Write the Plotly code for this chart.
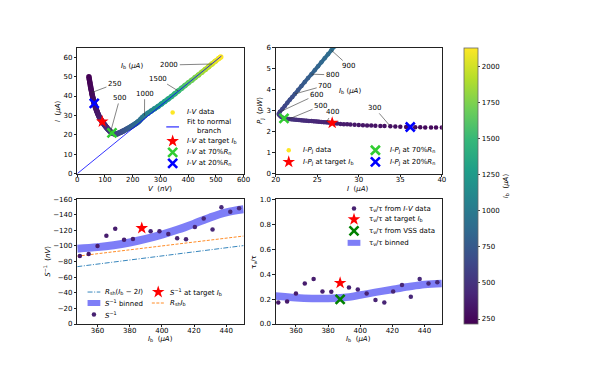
import numpy as np
import plotly.graph_objects as go
from plotly.colors import sample_colorscale

W, H = 598, 374
OFF = 8            # the page body margin shifts the figure by this much
FW, FH = W - OFF, H - OFF

# ---------------- I-V sweep: bias current, TES current, TES voltage ----------------
ib_uA = np.array([
    218.0, 222.3, 227.0, 231.4, 236.2, 240.7, 245.6, 250.6, 254.5, 259.2,
    262.5, 265.9, 269.6, 273.4, 277.2, 281.4, 284.9, 290.6, 295.2, 300.6,
    306.7, 311.4, 317.2, 321.9, 327.0, 332.5, 338.0, 344.3, 351.0, 356.6,
    362.2, 368.6, 376.2, 381.5, 387.5, 394.8, 400.1, 405.8, 411.5, 417.6,
    423.7, 429.8, 435.9, 442.4, 448.9, 455.4, 462.3, 470.0, 477.7, 485.8,
    493.9, 503.2, 512.5, 521.8, 534.4, 548.6, 564.1, 578.8,
    594.1, 613.2, 631.5, 651.4, 668.9, 685.6, 702.3, 723.9, 745.1, 765.5,
    785.5, 803.1, 821.5, 839.5, 856.7, 873.9, 890.3, 906.3, 921.5,
    945, 970, 1000, 1050, 1100, 1150, 1200, 1250, 1300, 1350, 1400, 1450,
    1500, 1550, 1600, 1650, 1700, 1750, 1800, 1850, 1900, 1950, 2000, 2050,
    2100, 2130])
i_uA = np.array([
    50.0, 48.7, 47.4, 46.2, 45.0, 43.9, 42.8, 41.8, 40.9, 40.0,
    39.3, 38.7, 38.0, 37.4, 36.8, 36.2, 35.7, 35.0, 34.4, 33.8,
    33.1, 32.6, 32.0, 31.5, 31.0, 30.5, 30.0, 29.5, 29.0, 28.6,
    28.2, 27.8, 27.4, 27.1, 26.8, 26.4, 26.1, 25.8, 25.5, 25.2,
    24.9, 24.6, 24.3, 24.0, 23.7, 23.4, 23.1, 22.8, 22.5, 22.2,
    21.9, 21.6, 21.3, 21.0, 20.8, 20.6, 20.45, 20.35,
    20.5, 20.8, 21.1, 21.4, 21.7, 22.0, 22.3, 22.7, 23.1, 23.5,
    23.9, 24.3, 24.7, 25.1, 25.5, 25.9, 26.3, 26.7, 27.1,
    28.0, 28.9, 29.9, 31.1, 32.3, 33.5, 34.6, 35.9, 37.2, 38.5, 39.8, 41.2,
    42.6, 44.0, 45.4, 46.8, 48.1, 49.5, 50.9, 52.3, 53.7, 55.1, 56.5, 57.9,
    59.3, 60.1])
v_nV = np.array([
    42.0, 43.4, 44.9, 46.3, 47.8, 49.2, 50.7, 52.2, 53.4, 54.8,
    55.8, 56.8, 57.9, 59.0, 60.1, 61.3, 62.3, 63.9, 65.2, 66.7,
    68.4, 69.7, 71.3, 72.6, 74.0, 75.5, 77.0, 78.7, 80.5, 82.0,
    83.5, 85.2, 87.2, 88.6, 90.2, 92.1, 93.5, 95.0, 96.5, 98.1,
    99.7, 101.3, 102.9, 104.6, 106.3, 108.0, 109.8, 111.8, 113.8, 115.9,
    118.0, 120.4, 122.8, 125.2, 128.4, 132.0, 135.9, 139.6,
    143.4, 148.1, 152.6, 157.5, 161.8, 165.9, 170.0, 175.3, 180.5, 185.5,
    190.4, 194.7, 199.2, 203.6, 207.8, 212.0, 216.0, 219.9, 223.6,
    229.3, 235.3, 242.5, 254.7, 266.9, 279.1, 291.4, 303.5, 315.7, 327.9, 340.1, 352.2,
    364.4, 376.5, 388.7, 400.8, 413.0, 425.1, 437.3, 449.4, 461.6, 473.7, 485.9, 498.0,
    510.2, 517.5])
p_pW = i_uA * v_nV / 1000.0  # Joule power

# linear fit to the normal branch
v_fit = [0, 520]
i_fit = [0, 60.6]

IB_TARGET = 387.5
IB_70RN = 521.8
IB_20RN = 281.4

iv_label_ib = [250, 500, 1000, 1500, 2000]
ip_label_ib = [300, 400, 500, 600, 700, 800, 900]

# ---------------- responsivity vs bias ----------------
ib_pts = [349.0, 354.5, 360.0, 365.5, 371.0, 376.5, 382.0, 393.0, 398.5,
          404.0, 409.5, 415.0, 420.5, 426.0, 431.5, 437.0, 442.5, 448.0]
s_inv = [-87.3, -89.8, -99.9, -113.2, -121.9, -107.8, -109.0, -119.0, -118.7,
         -115.3, -109.9, -108.6, -124.4, -135.3, -121.2, -149.5, -143.7, -148.2]
tau_ratio = [0.172, 0.180, 0.245, 0.324, 0.360, 0.261, 0.258, 0.292, 0.277,
             0.245, 0.193, 0.172, 0.261, 0.313, 0.219, 0.360, 0.324, 0.334]
s_target = -122.8
tau_target = 0.329
tau_vss = 0.198

ib_bin = [347.4, 360, 370, 380, 390, 400, 410, 420, 430, 440, 450.8]
s_bin = [-96.5, -98.5, -101.0, -104.5, -109.0, -114.5, -121.0, -128.5, -136.5, -143.0, -147.0]
tau_bin = [0.225, 0.211, 0.205, 0.204, 0.212, 0.232, 0.255, 0.277, 0.298, 0.316, 0.324]

ib_line = [347.4, 450.8]
rsh_ib = [-86.9, -112.7]
rsh_ib_2i = [-73.5, -100.5]

# ---------------- styling ----------------
FONT = "DejaVu Sans"
CMIN, CMAX = float(ib_uA.min()), float(ib_uA.max())
GREEN = "#32cd32"
BAND = "rgba(20,20,240,0.55)"


def cmap(v):
    return sample_colorscale("Viridis", [(v - CMIN) / (CMAX - CMIN)])[0]


def k(ib):
    return int(np.argmin(np.abs(ib_uA - ib)))


def px(x):
    return (x - OFF) / FW


def py(y):
    return 1 - (y - OFF) / FH


# axes boxes in page pixels (left, right, top, bottom)
boxes = {
    "": (74.5, 244, 44.3, 173.3),
    "2": (276.7, 446, 44.3, 173.3),
    "3": (74.5, 244, 199.3, 327),
    "4": (276.7, 446, 199.3, 327),
}

fig = go.Figure()

star = dict(symbol="star", size=9.5, color="red", line=dict(width=0))


def xmark(c):
    return dict(symbol="x-thin", size=9, color=c, line=dict(color=c, width=2.6))


def gradient_path(xs, ys, ibs, width, xa, ya):
    # join consecutive data points with segments coloured by bias current
    for j in range(len(xs) - 1):
        fig.add_trace(go.Scatter(x=xs[j:j + 2], y=ys[j:j + 2], mode="lines",
                                 line=dict(color=cmap((ibs[j] + ibs[j + 1]) / 2), width=width),
                                 xaxis=xa, yaxis=ya, hoverinfo="skip"))


# --- top left: I-V ---
gradient_path(v_nV, i_uA, ib_uA, 5, "x", "y")
fig.add_trace(go.Scatter(
    x=v_nV, y=i_uA, mode="markers", xaxis="x", yaxis="y",
    marker=dict(size=5.5, color=ib_uA, colorscale="Viridis", cmin=CMIN, cmax=CMAX,
                showscale=True,
                colorbar=dict(x=px(468.3), xanchor="left", y=py(185.5), yanchor="middle",
                              len=282.4 / FH, lenmode="fraction", thickness=14.4,
                              thicknessmode="pixels", xpad=0, ypad=0,
                              outlinewidth=0.8, outlinecolor="#666",
                              tickvals=[250, 500, 750, 1000, 1250, 1500, 1750, 2000],
                              ticks="outside", ticklen=2.5, tickwidth=0.8,
                              tickfont=dict(size=7, color="black", family=FONT)))))
fig.add_trace(go.Scatter(x=v_fit, y=i_fit, mode="lines", xaxis="x", yaxis="y",
                         line=dict(color="blue", width=0.8)))
for ibx, mk in [(IB_TARGET, star), (IB_70RN, xmark(GREEN)), (IB_20RN, xmark("blue"))]:
    fig.add_trace(go.Scatter(x=[v_nV[k(ibx)]], y=[i_uA[k(ibx)]], mode="markers",
                             xaxis="x", yaxis="y", marker=mk))

# --- top right: I-P ---
dense = ib_uA >= 375
gradient_path(i_uA[dense], p_pW[dense], ib_uA[dense], 3.8, "x2", "y2")
fig.add_trace(go.Scatter(
    x=i_uA, y=p_pW, mode="markers", xaxis="x2", yaxis="y2",
    marker=dict(size=4.5, color=ib_uA, colorscale="Viridis", cmin=CMIN, cmax=CMAX)))
for ibx, mk in [(IB_TARGET, star), (IB_70RN, xmark(GREEN)), (IB_20RN, xmark("blue"))]:
    fig.add_trace(go.Scatter(x=[i_uA[k(ibx)]], y=[p_pW[k(ibx)]], mode="markers",
                             xaxis="x2", yaxis="y2", marker=mk))

# --- bottom left: S^-1 ---
fig.add_trace(go.Scatter(x=ib_line, y=rsh_ib_2i, mode="lines", xaxis="x3", yaxis="y3",
                         line=dict(color="#1f77b4", width=0.9, dash="5px,1.6px,1px,1.6px")))
fig.add_trace(go.Scatter(x=ib_line, y=rsh_ib, mode="lines", xaxis="x3", yaxis="y3",
                         line=dict(color="#ff7f0e", width=0.9, dash="3px,1.5px")))
fig.add_trace(go.Scatter(x=ib_bin, y=s_bin, mode="lines", xaxis="x3", yaxis="y3",
                         line=dict(color=BAND, width=8, shape="spline")))
fig.add_trace(go.Scatter(x=ib_pts, y=s_inv, mode="markers", xaxis="x3", yaxis="y3",
                         marker=dict(size=4.5, color=ib_pts, colorscale="Viridis",
                                     cmin=CMIN, cmax=CMAX)))
fig.add_trace(go.Scatter(x=[IB_TARGET], y=[s_target], mode="markers", xaxis="x3", yaxis="y3",
                         marker=star))

# --- bottom right: tau ratio ---
fig.add_trace(go.Scatter(x=ib_bin, y=tau_bin, mode="lines", xaxis="x4", yaxis="y4",
                         line=dict(color=BAND, width=7.5, shape="spline")))
fig.add_trace(go.Scatter(x=ib_pts, y=tau_ratio, mode="markers", xaxis="x4", yaxis="y4",
                         marker=dict(size=4.5, color=ib_pts, colorscale="Viridis",
                                     cmin=CMIN, cmax=CMAX)))
fig.add_trace(go.Scatter(x=[IB_TARGET], y=[tau_target], mode="markers", xaxis="x4", yaxis="y4",
                         marker=star))
fig.add_trace(go.Scatter(x=[IB_TARGET], y=[tau_vss], mode="markers", xaxis="x4", yaxis="y4",
                         marker=xmark("#008000")))

# ---------------- hand-made legends (pixel overlay) ----------------
annotations = []


def ptxt(x, y, text, **kw):
    d = dict(x=px(x), y=py(y), xref="paper", yref="paper", text=text, showarrow=False,
             xanchor="left", yanchor="middle", font=dict(size=7, color="black", family=FONT))
    d.update(kw)
    annotations.append(d)


def key(kind, x, y, color, text, tx):
    if kind == "dot":
        tr = go.Scatter(x=[x], y=[y], mode="markers", marker=dict(size=4.5, color=color))
    elif kind == "star":
        tr = go.Scatter(x=[x], y=[y], mode="markers", marker=star)
    elif kind == "x":
        tr = go.Scatter(x=[x], y=[y], mode="markers", marker=xmark(color))
    else:
        style = dict(line=dict(color=color, width=1))
        if kind == "band":
            style = dict(line=dict(color=BAND, width=6))
        elif kind == "dashdot":
            style = dict(line=dict(color=color, width=0.9, dash="5px,1.6px,1px,1.6px"))
        elif kind == "dash":
            style = dict(line=dict(color=color, width=0.9, dash="3px,1.5px"))
        tr = go.Scatter(x=[x - 6.5, x + 6.5], y=[y, y], mode="lines", **style)
    tr.update(xaxis="x5", yaxis="y5")
    fig.add_trace(tr)
    ptxt(tx, y, text)


YEL = "#fde725"
DARK = cmap(390)
IV = "<i>I</i>-<i>V</i>"
IP = "<i>I</i>-<i>P</i><sub>J</sub>"
TIB = "target <i>I</i><sub>b</sub>"
TAU = "τ<sub>ν</sub>/τ"
SI = "<i>S</i><sup>−1</sup>"

for kind, y, c, t in [("dot", 110.7, YEL, IV + " data"),
                      ("line", 125.5, "blue", "Fit to normal<br>branch"),
                      ("star", 140.0, "red", IV + " at " + TIB),
                      ("x", 151.5, GREEN, IV + " at 70%<i>R</i><sub>n</sub>"),
                      ("x", 162.7, "blue", IV + " at 20%<i>R</i><sub>n</sub>")]:
    key(kind, 171.7, y, c, t, 184)

for kind, x, y, c, t in [("dot", 290, 149.3, YEL, IP + " data"),
                         ("star", 290, 161.3, "red", IP + " at " + TIB),
                         ("x", 378.3, 149.3, GREEN, IP + " at 70%<i>R</i><sub>n</sub>"),
                         ("x", 378.3, 161.3, "blue", IP + " at 20%<i>R</i><sub>n</sub>")]:
    key(kind, x, y, c, t, x + 12.5)

for kind, x, y, c, t in [("dashdot", 91.5, 294.3, "#1f77b4",
                          "<i>R</i><sub>sh</sub>(<i>I</i><sub>b</sub> − 2<i>I</i>)"),
                         ("band", 91.5, 305.5, BAND, SI + " binned"),
                         ("dot", 91.5, 317.3, DARK, SI),
                         ("star", 157, 294.3, "red", SI + " at " + TIB),
                         ("dash", 157, 305.5, "#ff7f0e", "<i>R</i><sub>sh</sub><i>I</i><sub>b</sub>")]:
    key(kind, x, y, c, t, x + 9.5)

for kind, y, c, t in [("dot", 209.0, DARK, TAU + " from " + IV + " data"),
                      ("star", 220.0, "red", TAU + " at " + TIB),
                      ("x", 231.7, "#008000", TAU + " from VSS data"),
                      ("band", 244.0, BAND, TAU + " binned")]:
    key(kind, 356.5, y, c, t, 370)

# ---------------- curve labels with leader lines ----------------
UNIT = "(<i>μA</i>)"
IB_LBL = "<i>I</i><sub>b</sub> " + UNIT


def leader(xa, ya, x0, y0, tx, ty, text):
    annotations.append(dict(x=x0, y=y0, ax=tx, ay=ty, xref=xa, yref=ya, axref=xa, ayref=ya,
                            text=text, showarrow=True, arrowhead=0, arrowwidth=0.6,
                            arrowcolor="#333", standoff=0,
                            font=dict(size=7, color="black", family=FONT)))


iv_text_pos = [(134, 46.2), (153.7, 39.0), (243, 41.2), (292, 49.0), (332, 56.0)]
for ibx, (tx, ty) in zip(iv_label_ib, iv_text_pos):
    leader("x", "y", v_nV[k(ibx)], i_uA[k(ibx)], tx, ty, str(ibx))
annotations.append(dict(x=198, y=55.5, xref="x", yref="y", text=IB_LBL, showarrow=False,
                        font=dict(size=7, color="black", family=FONT)))

ip_text_pos = [(31.9, 3.13), (26.8, 2.91), (25.4, 3.22), (24.9, 3.75), (25.9, 4.19),
               (26.8, 4.70), (28.8, 5.12)]
for ibx, (tx, ty) in zip(ip_label_ib, ip_text_pos):
    leader("x2", "y2", i_uA[k(ibx)], p_pW[k(ibx)], tx, ty, str(ibx))
annotations.append(dict(x=28.9, y=3.91, xref="x2", yref="y2", text=IB_LBL, showarrow=False,
                        font=dict(size=7, color="black", family=FONT)))

# axis titles
ptxt(159, 189, "<i>V</i>  (<i>nV</i>)", xanchor="center")
ptxt(361, 189, "<i>I</i>  " + UNIT, xanchor="center")
ptxt(159, 342.5, "<i>I</i><sub>b</sub>  " + UNIT, xanchor="center")
ptxt(361, 342.5, "<i>I</i><sub>b</sub>  " + UNIT, xanchor="center")
ptxt(55, 109, "<i>I</i>  " + UNIT, xanchor="center", textangle=-90)
ptxt(261, 109, "<i>P</i><sub>J</sub>  (<i>pW</i>)", xanchor="center", textangle=-90)
ptxt(44, 263, SI + "  (<i>nV</i>)", xanchor="center", textangle=-90)
ptxt(255, 263, TAU, xanchor="center", textangle=-90)
ptxt(511, 185.5, "<i>I</i><sub>b</sub>  " + UNIT, xanchor="center", textangle=-90)

# ---------------- axes ----------------
ax_style = dict(showline=True, linecolor="#222", linewidth=0.8, mirror=True, ticks="outside",
                ticklen=2.5, tickwidth=0.8, tickcolor="#222", showgrid=False, zeroline=False,
                tickfont=dict(size=7, color="black", family=FONT), fixedrange=True)

specs = {
    "": dict(x=dict(range=[0, 600], dtick=100, tick0=0), y=dict(range=[0, 65], dtick=10, tick0=0)),
    "2": dict(x=dict(range=[20, 40], dtick=5, tick0=20), y=dict(range=[0, 6], dtick=1, tick0=0)),
    "3": dict(x=dict(range=[347.4, 450.8], dtick=20, tick0=360),
              y=dict(range=[0, -160], dtick=20, tick0=0)),
    "4": dict(x=dict(range=[347.4, 450.8], dtick=20, tick0=360),
              y=dict(range=[0, 1], dtick=0.2, tick0=0, tickformat=".1f")),
}
layout_axes = {}
for s, (x0, x1, y0, y1) in boxes.items():
    layout_axes["xaxis" + s] = dict(ax_style, domain=[px(x0), px(x1)], anchor="y" + s,
                                    ticklabelstandoff=-3, **specs[s]["x"])
    layout_axes["yaxis" + s] = dict(ax_style, domain=[py(y1), py(y0)], anchor="x" + s, **specs[s]["y"])

# overlay in page pixels for the legend keys
layout_axes["xaxis5"] = dict(domain=[0, 1], range=[OFF, W], visible=False, anchor="y5", fixedrange=True)
layout_axes["yaxis5"] = dict(domain=[0, 1], range=[H, OFF], visible=False, anchor="x5", fixedrange=True)

fig.update_layout(
    width=FW, height=FH, margin=dict(l=0, r=0, t=0, b=0),
    paper_bgcolor="white", plot_bgcolor="rgba(0,0,0,0)",
    showlegend=False, font=dict(family=FONT, size=7, color="black"),
    annotations=annotations, **layout_axes)

fig.write_html("out.html")
